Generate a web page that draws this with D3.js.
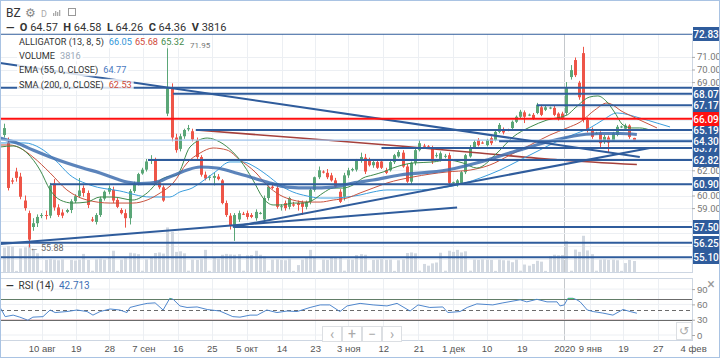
<!DOCTYPE html>
<html><head><meta charset="utf-8">
<script src="https://cdn.jsdelivr.net/npm/d3@7"></script>
<style>body{margin:0;background:#fff;}svg{display:block;font-family:Roboto,"Liberation Sans",Arial,sans-serif;}</style>
</head><body><svg id="c" width="720" height="359"></svg>
<script>
// ---------- DATA ----------
const candles = [
[64.80,65.70,64.60,65.35],[64.20,64.60,60.40,60.60],[61.20,61.40,60.90,61.10],[61.90,62.20,61.10,61.40],[61.50,61.80,59.70,59.90],
[59.60,60.00,58.80,59.00],[58.60,58.80,55.88,56.50],[57.50,58.20,57.20,57.80],[57.80,58.50,57.50,58.30],[58.40,58.60,58.20,58.45],
[58.45,58.80,58.10,58.40],[58.40,61.00,58.20,60.80],[60.95,61.30,58.80,59.05],[59.05,59.30,58.30,58.45],[58.65,58.90,58.20,58.40],
[58.70,58.95,58.60,58.85],[58.85,59.70,58.60,59.55],[59.55,60.10,59.40,59.95],[59.95,61.39,59.80,60.40],[60.60,60.80,59.90,60.20],
[60.20,60.40,59.00,59.25],[58.10,58.30,57.90,58.00],[57.90,58.60,57.70,58.45],[58.45,59.90,58.30,59.75],[59.75,60.40,59.60,60.30],
[60.30,60.80,60.10,60.60],[60.45,60.70,59.40,59.60],[59.65,59.80,59.00,59.10],[58.85,59.00,58.50,58.60],[58.60,58.90,57.45,58.20],
[58.20,60.50,57.70,60.35],[60.35,61.10,60.20,60.95],[60.95,61.80,60.80,61.70],[61.75,62.20,61.65,62.05],[62.05,62.90,61.90,62.70],
[62.80,63.20,62.50,62.85],[62.85,63.00,60.90,61.00],[61.05,61.20,60.50,60.65],[60.65,60.80,59.50,59.60],[66.50,71.95,66.30,68.60],
[68.50,68.90,64.30,64.60],[64.60,64.90,63.40,63.60],[63.70,64.90,63.50,64.70],[64.70,65.30,64.50,65.20],[65.25,65.60,65.10,65.35],
[65.10,65.30,64.30,64.45],[64.40,64.60,62.90,63.05],[63.05,63.20,61.50,61.65],[61.65,61.90,61.20,61.35],[61.40,61.60,61.20,61.50],
[61.40,61.85,60.80,61.55],[61.50,61.70,61.20,61.30],[61.20,61.30,59.30,59.40],[59.40,59.60,58.30,58.45],[58.40,58.60,57.30,57.60],
[57.65,58.60,56.40,58.45],[58.10,58.80,57.90,58.60],[58.55,58.70,58.45,58.50],[58.60,58.80,58.10,58.30],[58.45,58.60,58.20,58.30],
[58.20,58.90,58.00,58.70],[58.60,58.70,58.50,58.62],[58.10,60.00,57.90,59.80],[59.80,60.80,59.60,60.70],[60.70,60.85,60.50,60.60],
[60.60,60.80,58.95,59.10],[59.10,59.30,58.80,59.15],[59.40,59.60,58.80,59.00],[59.10,59.90,58.90,59.80],[59.30,59.50,59.10,59.20],
[59.40,59.60,58.80,59.25],[59.45,59.60,58.45,59.10],[59.10,59.60,58.90,59.50],[59.50,60.60,59.30,60.45],[60.45,61.50,60.30,61.45],
[61.45,62.30,61.30,62.00],[61.90,62.00,61.75,61.85],[61.80,62.10,61.30,61.45],[61.60,61.80,61.10,61.20],[61.20,61.40,60.60,60.70],
[60.30,60.50,59.40,59.50],[59.90,61.80,59.60,61.60],[61.60,62.20,61.40,62.00],[62.00,62.20,61.90,62.10],[62.05,62.90,61.90,62.80],
[62.80,63.40,62.60,63.05],[63.00,63.30,61.70,61.90],[62.80,63.00,62.30,62.40],[62.40,62.80,62.20,62.65],[62.65,62.80,62.10,62.20],
[62.70,62.90,62.10,62.20],[62.00,62.20,61.70,61.80],[62.00,62.80,61.90,62.65],[62.65,63.30,62.50,63.20],[63.10,63.60,63.00,63.45],
[63.40,63.60,62.20,62.30],[62.30,62.50,61.00,61.10],[61.10,62.70,60.90,62.60],[62.60,63.70,62.40,63.60],[63.60,64.40,63.50,64.15],
[63.95,64.10,63.80,63.90],[63.90,64.00,63.70,63.80],[63.80,63.95,62.50,62.70],[63.15,63.40,63.00,63.20],[62.80,63.50,62.70,63.35],
[63.10,63.30,62.95,63.15],[63.20,63.40,60.80,61.00],[61.00,61.10,60.90,61.05],[60.85,61.30,60.70,61.20],[61.00,61.95,60.90,61.85],
[61.85,63.30,61.70,63.20],[63.10,64.00,63.00,63.85],[63.85,64.40,63.70,64.25],[64.40,64.55,63.90,64.00],[64.20,64.30,64.10,64.18],
[64.00,64.50,63.90,64.40],[64.55,64.70,64.00,64.15],[64.40,65.20,64.30,65.05],[65.05,65.75,64.95,65.60],[65.20,65.40,64.85,65.00],
[65.20,65.30,65.10,65.15],[65.35,65.95,65.25,65.85],[65.85,66.35,65.75,66.25],[66.25,66.80,66.15,66.65],[66.60,66.75,65.75,66.25],
[66.40,66.50,66.30,66.42],[66.40,66.55,66.00,66.15],[66.55,67.35,66.45,67.20],[67.00,67.20,66.30,66.40],[66.80,67.15,66.70,67.00],
[66.95,67.05,66.85,66.98],[66.95,67.10,66.30,66.40],[66.50,66.60,65.95,66.10],[66.50,66.65,66.00,66.15],[66.55,69.00,66.40,68.60],
[69.40,70.35,69.20,69.95],[70.75,70.95,69.40,69.55],[68.95,69.10,67.60,67.80],[71.30,71.80,65.80,66.00],[66.00,66.20,65.00,65.20],
[65.20,65.40,64.50,64.65],[64.90,65.05,64.85,64.95],[64.95,65.10,63.85,64.15],[64.25,64.80,64.10,64.65],[64.60,64.75,63.45,64.20],
[64.35,65.05,64.25,64.95],[64.80,65.60,64.70,65.45],[65.45,65.55,65.35,65.48],[65.30,65.70,65.20,65.55],[65.55,65.65,64.50,64.65],
[64.57,64.58,64.26,64.36]
];
const volumes = [8500,9000,8800,400,8200,8600,9500,7800,6500,500,4200,4500,4300,4100,4400,400,4200,4000,4300,6300,
4200,450,4400,4600,4300,5000,7400,400,4300,4800,6700,6500,6200,450,4400,5000,6600,6800,6400,15500,
14000,7000,7200,6500,450,4300,4200,4600,7700,400,5200,4600,6000,6300,6100,6000,6200,450,5800,5900,
7400,6000,5400,450,4300,4400,4200,4100,4600,400,2400,4300,4800,7700,5200,450,4300,4200,5000,5200,
4900,450,4400,4300,5900,6200,6000,450,4200,4300,4500,4200,4300,400,4100,4400,6600,6800,6500,450,
2800,2200,3000,3300,6700,450,7400,7000,7700,6800,7200,450,4300,4200,4400,4300,4200,400,4300,4100,
4000,3400,4300,450,2600,2200,2800,3900,3600,400,5500,6000,5800,5900,10800,450,7800,7000,12600,7500,
6200,450,4300,4400,4200,4300,4100,400,3100,4200,3816];

// indicator series: [bar index, value]
const ema55 = [[-0.8,64.56],[3.2,64.17],[7.0,63.61],[11.1,63.06],[15.1,62.58],[18.9,62.18],[23.0,61.79],[27.0,61.31],[29.4,61.07],[32.5,60.95],[34.9,60.99],[37.3,61.15],[38.9,61.39],[41.3,61.71],[43.7,62.02],[46.8,62.26],[50.8,62.18],[54.6,61.87],[58.7,61.47],[62.7,61.07],[67.5,60.67],[73.0,60.60],[78.5,60.67],[83.2,60.99],[88.0,61.23],[94.4,61.63],[105.6,62.02],[113.5,62.66],[121.3,63.45],[129.4,64.25],[137.3,64.80],[142.0,64.92],[146.8,64.92],[150.8,64.84]];
const sma200 = [[45.8,65.20],[70.6,64.56],[94.4,63.93],[113.4,63.37],[132.5,62.82],[150.8,62.46]];
const jaw = [[-0.8,64.17],[5.1,64.17],[8.7,63.77],[12.3,62.82],[15.8,61.63],[20.6,60.83],[27.7,60.36],[34.9,59.88],[39.6,59.88],[42.0,60.28],[44.9,60.59],[46.8,60.99],[50.4,61.87],[53.9,62.66],[57.0,62.66],[59.9,62.26],[62.7,61.63],[65.8,60.83],[68.9,60.28],[72.3,59.96],[75.4,59.80],[78.5,59.80],[81.8,59.88],[84.9,60.04],[88.0,60.28],[91.3,60.44],[97.5,60.44],[105.6,60.67],[109.9,60.99],[113.5,61.39],[118.2,62.02],[123.0,62.82],[127.7,63.61],[132.5,64.40],[137.3,65.04],[139.6,65.36],[142.7,65.99],[146.1,66.55],[151.5,66.15],[155.6,65.75],[158.7,65.44]];
const teeth = [[-0.8,64.01],[1.5,64.01],[3.9,63.77],[7.0,63.06],[11.1,61.79],[15.1,60.44],[19.9,59.64],[25.4,59.40],[30.8,59.40],[34.2,59.64],[37.3,60.20],[40.4,60.99],[43.7,62.58],[46.8,63.37],[49.9,63.77],[53.2,63.61],[56.3,62.82],[59.9,61.87],[62.7,60.83],[65.8,60.04],[68.9,59.64],[72.3,59.48],[75.4,59.48],[78.5,59.64],[81.8,59.80],[84.9,60.20],[88.0,60.59],[91.3,60.99],[97.5,61.47],[105.6,61.87],[111.1,62.02],[115.8,62.42],[120.6,63.21],[125.4,64.01],[130.1,64.80],[134.2,65.36],[137.3,65.83],[140.8,66.79],[143.7,67.34],[147.5,66.63],[151.5,65.99],[155.6,65.36]];
const lips = [[-0.8,63.85],[2.3,63.93],[5.6,63.37],[8.7,62.02],[11.1,60.44],[13.5,59.64],[16.5,59.40],[19.9,59.48],[23.0,59.88],[26.1,59.88],[30.8,59.64],[34.2,60.20],[37.3,61.23],[38.9,61.47],[41.3,61.63],[44.4,63.85],[48.5,64.56],[51.5,64.25],[54.6,63.45],[56.3,62.82],[59.4,61.23],[61.8,59.80],[64.2,59.25],[66.5,59.25],[68.9,59.40],[71.3,59.40],[73.7,59.64],[76.1,60.20],[78.5,60.59],[80.8,60.59],[83.2,60.83],[85.6,61.39],[88.0,61.63],[90.4,61.87],[92.7,62.18],[97.5,62.58],[102.3,62.66],[105.6,62.82],[109.4,62.58],[112.7,62.18],[117.5,63.37],[121.3,64.64],[125.4,65.44],[129.4,65.99],[134.2,66.39],[136.1,66.95],[139.6,67.82],[141.5,67.90],[143.7,67.42],[145.6,66.55],[147.5,65.60],[149.6,65.36],[151.5,65.36],[153.9,65.20]];
const rsi = [[-0.8,54],[0.4,36],[2.3,39],[3.9,35],[5.8,29],[7.0,35],[9.4,36],[11.1,49],[12.3,44],[15.1,46],[17.5,49],[19.9,46],[21.3,39],[23.0,46],[25.4,51],[27.7,49],[29.4,44],[30.1,54],[32.5,59],[34.2,62],[36.1,63],[38.0,49],[39.6,72],[40.4,70],[42.0,57],[43.7,54],[46.1,55],[48.5,50],[51.5,47],[54.6,36],[56.3,35],[58.7,39],[60.4,39],[62.7,49],[65.1,44],[67.5,47],[69.9,46],[73.0,54],[75.4,59],[77.7,59],[80.1,46],[81.8,57],[84.9,62],[88.0,59],[91.3,57],[93.7,62],[96.8,47],[98.7,59],[101.5,54],[104.6,55],[105.8,44],[108.7,46],[110.4,54],[112.7,61],[116.5,59],[118.9,63],[123.0,69],[124.6,65],[127.0,70],[129.4,65],[131.8,65],[132.5,57],[133.5,59],[134.4,72],[135.6,72],[136.5,69],[137.3,65],[139.0,49],[140.4,46],[142.7,43],[145.1,39],[147.5,50],[149.2,46],[150.8,42.713]];

// horizontal levels: price, first bar index
const levelPrice = [72.83, 68.55, 68.07, 67.17, 65.19, 64.30, 63.77, 62.82, 60.90, 57.50, 56.25, 55.10];
const levelStart = [-2, -2, 40.4, 127, 45.8, 118, 90, 34.4, 11.1, 55, -2, -2];
const redLevel = 66.09;
const thinLevel = 64.40;
const labelOrder = [72.83, 68.07, 67.17, 65.19, 63.77, 64.30, 62.82, 60.90, 57.50, 56.25, 55.10];
// trend lines: [i1, p1, i2, p2]
const trendLines = [[-0.8,70.52,151.5,63.06],[-0.8,56.15,108.0,59.05],[54.6,57.50,153.9,63.77]];
const tickIdx = [9.1,17.2,25.2,33.3,41.5,49.6,57.9,66.2,74.2,82.1,90.4,98.8,107.0,115.0,123.4,133.5,139.6,147.5,155.8,164.2];
const tickLabels = ["10 авг","19","28","7 сен","16","25","5 окт","14","23","3 ноя","12","21","1 дек","10","19","2020","9 янв","19","27","4 фев"];
const priceTicks = [55,56,57,58,59,60,61,62,63,64,65,66,67,68,69,70,71];
const rsiTicks = [0,30,60,90];
const rsiLevels = [30,50,70];

// ---------- DRAW ----------
const svg = d3.select("#c");
const PL = 0, PR = 692, PT = 34, PB = 272.5;
const RT = 278.5, RB = 340.5;
const x = d3.scaleLinear().domain([0,150]).range([3.5,633.5]);
const y = d3.scaleLinear().domain([55,73]).range([258.5,258.5-18*12.6]);
const yv = d3.scaleLinear().domain([0,16000]).range([272,226]);
const yr = d3.scaleLinear().domain([0,100]).range([335,284]);
const GREEN = "#5aa677", RED = "#ee5548", LVL = "#2f5c9c";

svg.append("rect").attr("x",0).attr("y",0).attr("width",720).attr("height",359).attr("fill","#fff");

svg.append("defs").html(`
 <clipPath id="mainClip"><rect x="${PL}" y="${PT}" width="${PR-PL}" height="${PB-PT}"/></clipPath>
 <clipPath id="rsiClip"><rect x="${PL}" y="${RT}" width="${PR-PL}" height="${RB-RT}"/></clipPath>
 <clipPath id="obClip"><rect x="0" y="${RT}" width="${PR}" height="${yr(70)-RT}"/></clipPath>
 <clipPath id="osClip"><rect x="0" y="${yr(30)}" width="${PR}" height="${RB-yr(30)}"/></clipPath>`);

// grids
const main = svg.append("g").attr("clip-path","url(#mainClip)");
main.selectAll(".vg").data(tickIdx).join("line").attr("x1",d=>Math.round(x(d))+0.5).attr("x2",d=>Math.round(x(d))+0.5).attr("y1",PT).attr("y2",PB)
  .attr("stroke",(d,i)=>tickLabels[i]==="2020"?"#c4c8cc":"#eceff3").attr("stroke-width",1);
main.selectAll(".hg").data(priceTicks).join("line").attr("x1",PL).attr("x2",PR).attr("y1",d=>Math.round(y(d))+0.5).attr("y2",d=>Math.round(y(d))+0.5)
  .attr("stroke","#eceff3");

// volume
main.selectAll(".vol").data(volumes).join("rect").attr("x",(d,i)=>Math.round(x(i))-1).attr("width",3)
  .attr("y",d=>yv(d)).attr("height",d=>yv(0)-yv(d)).attr("fill","#d3d9e1");

// candles
const cg = main.append("g");
cg.selectAll(".wick").data(candles).join("line").attr("x1",(d,i)=>Math.round(x(i))+0.5).attr("x2",(d,i)=>Math.round(x(i))+0.5)
  .attr("y1",d=>y(d[1])).attr("y2",d=>y(d[2])).attr("stroke",d=>d[3]>=d[0]?GREEN:RED).attr("stroke-width",1);
cg.selectAll(".body").data(candles).join("rect").attr("x",(d,i)=>Math.round(x(i))-1).attr("width",3)
  .attr("y",d=>y(Math.max(d[0],d[3]))).attr("height",d=>Math.max(1,Math.abs(y(d[0])-y(d[3]))))
  .attr("fill",d=>d[3]>=d[0]?GREEN:RED);

// indicators
const line = d3.line().x(d=>x(d[0])).y(d=>y(d[1])).curve(d3.curveMonotoneX);
main.append("path").datum(sma200).attr("d",line).attr("fill","none").attr("stroke","#a5403c").attr("stroke-width",1.6);
main.append("path").datum(jaw).attr("d",line).attr("fill","none").attr("stroke","#3a9ddd").attr("stroke-width",1);
main.append("path").datum(teeth).attr("d",line).attr("fill","none").attr("stroke","#c8533f").attr("stroke-width",1);
main.append("path").datum(lips).attr("d",line).attr("fill","none").attr("stroke","#3f8a4c").attr("stroke-width",1);
main.append("path").datum(ema55).attr("d",line).attr("fill","none").attr("stroke","#3f6eaf").attr("stroke-width",3.2).attr("stroke-opacity",0.85);

// levels
main.append("line").attr("x1",PL).attr("x2",PR).attr("y1",y(thinLevel)).attr("y2",y(thinLevel)).attr("stroke","#9fc4ec").attr("stroke-width",1.2);
main.selectAll(".lvl").data(levelPrice).join("line").attr("x1",(d,i)=>x(levelStart[i])).attr("x2",PR)
  .attr("y1",d=>y(d)).attr("y2",d=>y(d)).attr("stroke",LVL).attr("stroke-width",2);
main.selectAll(".tl").data(trendLines).join("line").attr("x1",d=>x(d[0])).attr("y1",d=>y(d[1])).attr("x2",d=>x(d[2])).attr("y2",d=>y(d[3]))
  .attr("stroke",LVL).attr("stroke-width",2);
main.append("line").attr("x1",PL).attr("x2",PR).attr("y1",y(redLevel)).attr("y2",y(redLevel)).attr("stroke","#ff1010").attr("stroke-width",2);

// low marker
main.append("text").attr("x",x(6)+1).attr("y",y(55.88)+4).attr("font-size",9).attr("fill","#666").text("← 55.88");

// panel borders
svg.append("rect").attr("x",0.5).attr("y",PT-0.5).attr("width",PR).attr("height",PB-PT+0.5).attr("fill","none").attr("stroke","#cdd6e2");

// price axis (labels hidden where a level box covers them)
const boxPrices = labelOrder.concat([redLevel]);
const visibleTicks = priceTicks.filter(p=>boxPrices.every(b=>Math.abs(y(p)-y(b))>8));
const pa = svg.append("g").attr("transform",`translate(${PR},0)`).call(d3.axisRight(y).tickValues(visibleTicks).tickSize(3).tickPadding(2).tickFormat(d3.format(".2f")));
pa.select(".domain").remove();
pa.selectAll("text").attr("font-size",9.5).attr("fill","#777").attr("font-family","Roboto, Arial");
pa.selectAll("line").attr("stroke","#aaa");
// level boxes
const boxes = svg.append("g");
function box(p, col){
  const g = boxes.append("g").attr("transform",`translate(${PR+1},${Math.round(y(p))})`);
  g.append("rect").attr("x",0).attr("y",-7).attr("width",26).attr("height",14).attr("fill",col);
  g.append("text").attr("x",13).attr("y",3.6).attr("text-anchor","middle").attr("font-size",10).attr("font-weight",500).attr("fill","#fff").text(p.toFixed(2));
}
labelOrder.forEach(p=>box(p,LVL));
box(redLevel,"#ff1010");

// header
svg.append("text").attr("x",6).attr("y",17).attr("font-size",12).attr("fill","#333").text("BZ");
svg.append("text").attr("x",25).attr("y",17).attr("font-size",12).attr("fill","#888").text("⚙");
svg.append("text").attr("x",41).attr("y",17).attr("font-size",9).attr("fill","#aaa").text("D");
[[53,3],[55,5],[57,4],[59,6]].forEach(b=>svg.append("rect").attr("x",b[0]).attr("y",16-b[1]).attr("width",1.3).attr("height",b[1]).attr("fill","#aaa"));
svg.append("rect").attr("x",68.5).attr("y",8.5).attr("width",7).attr("height",7).attr("fill","none").attr("stroke","#999");
const hdr = svg.append("text").attr("x",6).attr("y",30.5).attr("font-size",11).attr("fill","#333").attr("xml:space","preserve");
[["—  ",700],["O ",700],["64.57  ",400],["H ",700],["64.58  ",400],["L ",700],["64.26  ",400],["C ",700],["64.36  ",400],["V ",700],["3816",400]]
 .forEach(t=>hdr.append("tspan").attr("font-weight",t[1]).text(t[0]));

// legend: [text, colour, gap before]
const legend = [
  {y:42, parts:[["ALLIGATOR (13, 8, 5)","#333",0],["66.05","#2f95d8",5],["65.68","#d04a3a",3],["65.32","#3f8a4c",3]]},
  {y:56, parts:[["VOLUME","#333",0],["3816","#9aa8b8",5]]},
  {y:70, parts:[["EMA (55, 0, CLOSE)","#333",0],["64.77","#4a78c0",5]]},
  {y:84.5, parts:[["SMA (200, 0, CLOSE)","#333",0],["62.53","#d04a3a",5]]}
];
let legendRight = 0;
legend.forEach((l,k)=>{
  const g = svg.append("g");
  const bg = g.append("rect").attr("fill","#fff").attr("fill-opacity",0.8);
  const t = g.append("text").attr("x",19).attr("y",l.y+3.3).attr("font-size",9.2);
  l.parts.forEach(p=>t.append("tspan").attr("dx",p[2]).attr("fill",p[1]).text(p[0]));
  const bb = t.node().getBBox();
  bg.attr("x",bb.x-2).attr("y",bb.y).attr("width",bb.width+4).attr("height",bb.height);
  if(k===0) legendRight = bb.x + bb.width;
});
// high marker (drawn above legend, right of the alligator row)
svg.append("text").attr("x",Math.max(181, legendRight+6)).attr("y",y(71.95)+3).attr("font-size",8).attr("fill","#777").text("71.95");

// RSI panel
svg.append("rect").attr("x",0.5).attr("y",RT).attr("width",PR).attr("height",RB-RT).attr("fill","none").attr("stroke","#cdd6e2");
const rg = svg.append("g").attr("clip-path","url(#rsiClip)");
rg.selectAll(".vg").data(tickIdx).join("line").attr("x1",d=>Math.round(x(d))+0.5).attr("x2",d=>Math.round(x(d))+0.5).attr("y1",RT).attr("y2",RB)
  .attr("stroke",(d,i)=>tickLabels[i]==="2020"?"#c4c8cc":"#eceff3");
rg.selectAll(".hg").data(rsiTicks).join("line").attr("x1",PL).attr("x2",PR).attr("y1",d=>yr(d)).attr("y2",d=>yr(d)).attr("stroke","#eceff3");
rg.selectAll(".lv").data(rsiLevels).join("line").attr("x1",PL).attr("x2",PR).attr("y1",d=>Math.round(yr(d))+0.5).attr("y2",d=>Math.round(yr(d))+0.5)
  .attr("stroke","#6b6b6b").attr("stroke-width",1).attr("stroke-dasharray",d=>d===50?"4,3":null);
const rline = d3.line().x(d=>x(d[0])).y(d=>yr(d[1]));
rg.append("path").datum(rsi).attr("d",rline).attr("fill","none").attr("stroke","#4f86cc").attr("stroke-width",1);
const area70 = d3.area().x(d=>x(d[0])).y0(yr(70)).y1(d=>yr(d[1]));
rg.append("path").datum(rsi).attr("d",area70).attr("fill","#3fcf5a").attr("clip-path","url(#obClip)");
const area30 = d3.area().x(d=>x(d[0])).y0(yr(30)).y1(d=>yr(d[1]));
rg.append("path").datum(rsi).attr("d",area30).attr("fill","#e94040").attr("clip-path","url(#osClip)");
const ra = svg.append("g").attr("transform",`translate(${PR},0)`).call(d3.axisRight(yr).tickValues(rsiTicks).tickSize(3).tickPadding(2).tickFormat(d3.format("d")));
ra.select(".domain").remove();
ra.selectAll("text").attr("font-size",9.5).attr("fill","#777");
ra.selectAll("line").attr("stroke","#aaa");
const rl = svg.append("text").attr("x",6).attr("y",289).attr("font-size",10).attr("xml:space","preserve");
rl.append("tspan").attr("fill","#333").attr("font-weight",700).text("—  ");
rl.append("tspan").attr("fill","#333").text("RSI (14)  ");
rl.append("tspan").attr("fill","#3d6fb5").text("42.713");
svg.append("text").attr("x",711).attr("y",289).attr("text-anchor","middle").attr("font-size",14).attr("fill","#999").text("×");

// nav buttons
const nav = ["‹","+","−","›"];
nav.forEach((s,i)=>{
  const g = svg.append("g").attr("transform",`translate(${322+i*20},326)`);
  g.append("rect").attr("x",0.5).attr("y",0.5).attr("width",19).attr("height",15).attr("fill","#fff").attr("stroke","#dcdfe3");
  g.append("text").attr("x",10).attr("y",12.5).attr("text-anchor","middle").attr("font-size",14).attr("fill","#aaa").text(s);
});
svg.append("rect").attr("x",676.5).attr("y",322.5).attr("width",15).attr("height",17).attr("fill","#fff").attr("stroke","#dcdfe3");
svg.append("text").attr("x",684).attr("y",335).attr("text-anchor","middle").attr("font-size",12).attr("fill","#aaa").attr("font-family","DejaVu Sans").text("↺");

// x axis
const xa = svg.append("g").attr("transform",`translate(0,${RB})`).call(d3.axisBottom(x).tickValues(tickIdx).tickSize(0).tickPadding(5).tickFormat((d,i)=>tickLabels[i]));
xa.select(".domain").remove();
xa.selectAll("text").attr("font-size",9.5).attr("fill","#555");

// outer frame
svg.append("rect").attr("x",0.5).attr("y",0.5).attr("width",719).attr("height",357).attr("fill","none").attr("stroke","#a9c3e3");
</script></body></html>
